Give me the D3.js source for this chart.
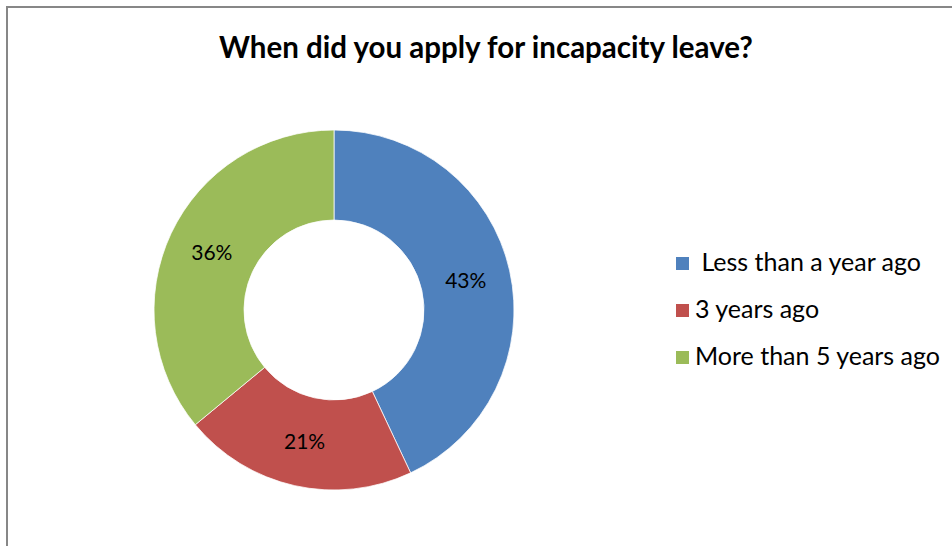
<!DOCTYPE html>
<html>
<head>
<meta charset="utf-8">
<script src="https://cdn.jsdelivr.net/npm/d3@7"></script>
<style>
  html, body { margin: 0; padding: 0; background: #fff; }
  svg { display: block; }
</style>
</head>
<body>
<svg id="chart" width="952" height="546"></svg>
<script>
// Survey answers: share of respondents per category
const categories = ["Less than a year ago", "3 years ago", "More than 5 years ago"];
const legendLabels = [" Less than a year ago", "3 years ago", "More than 5 years ago"];
const values = [43, 21, 36];
const colors = ["#4F81BD", "#C0504D", "#9BBB59"];
const title = "When did you apply for incapacity leave?";

const svg = d3.select("#chart");
const W = 952, H = 546;
const font = "Lato, 'Open Sans', sans-serif";

// Chart frame
svg.append("rect")
  .attr("x", 7).attr("y", 7)
  .attr("width", W + 10).attr("height", H + 10)
  .attr("fill", "#fff")
  .attr("stroke", "#878787").attr("stroke-width", 2);

// Title
svg.append("text")
  .attr("x", 486).attr("y", 58)
  .attr("text-anchor", "middle")
  .attr("font-family", font)
  .attr("font-weight", "bold")
  .attr("font-size", 29.5)
  .attr("fill", "#000")
  .text(title);

// Donut
const cx = 334, cy = 310, outerR = 180, innerR = 90;
const pie = d3.pie().sort(null).value(d => d.value);
const arc = d3.arc().innerRadius(innerR).outerRadius(outerR);
const data = categories.map((c, i) => ({ name: c, value: values[i], color: colors[i] }));
const arcs = pie(data);

const g = svg.append("g").attr("transform", `translate(${cx},${cy})`);
g.selectAll("path")
  .data(arcs)
  .join("path")
  .attr("d", arc)
  .attr("fill", d => d.data.color)
  .attr("stroke", "#fff")
  .attr("stroke-width", 0.75);

g.selectAll("text.pct")
  .data(arcs)
  .join("text")
  .attr("class", "pct")
  .attr("transform", d => `translate(${arc.centroid(d)})`)
  .attr("text-anchor", "middle")
  .attr("dy", "0.36em")
  .attr("font-family", font)
  .attr("font-size", 21)
  .attr("fill", "#000")
  .text(d => d.data.value + "%");

// Legend
const legend = svg.append("g").attr("transform", "translate(676,263)");
const rowH = 47;
const item = legend.selectAll("g")
  .data(data)
  .join("g")
  .attr("transform", (d, i) => `translate(0,${i * rowH})`);
item.append("rect")
  .attr("x", 0).attr("y", -6)
  .attr("width", 13).attr("height", 13)
  .attr("fill", d => d.color);
item.append("text")
  .attr("x", 19).attr("y", 8)
  .attr("font-family", font)
  .attr("font-size", 25)
  .attr("fill", "#000")
  .attr("xml:space", "preserve")
  .style("white-space", "pre")
  .text((d, i) => legendLabels[i]);
</script>
</body>
</html>
